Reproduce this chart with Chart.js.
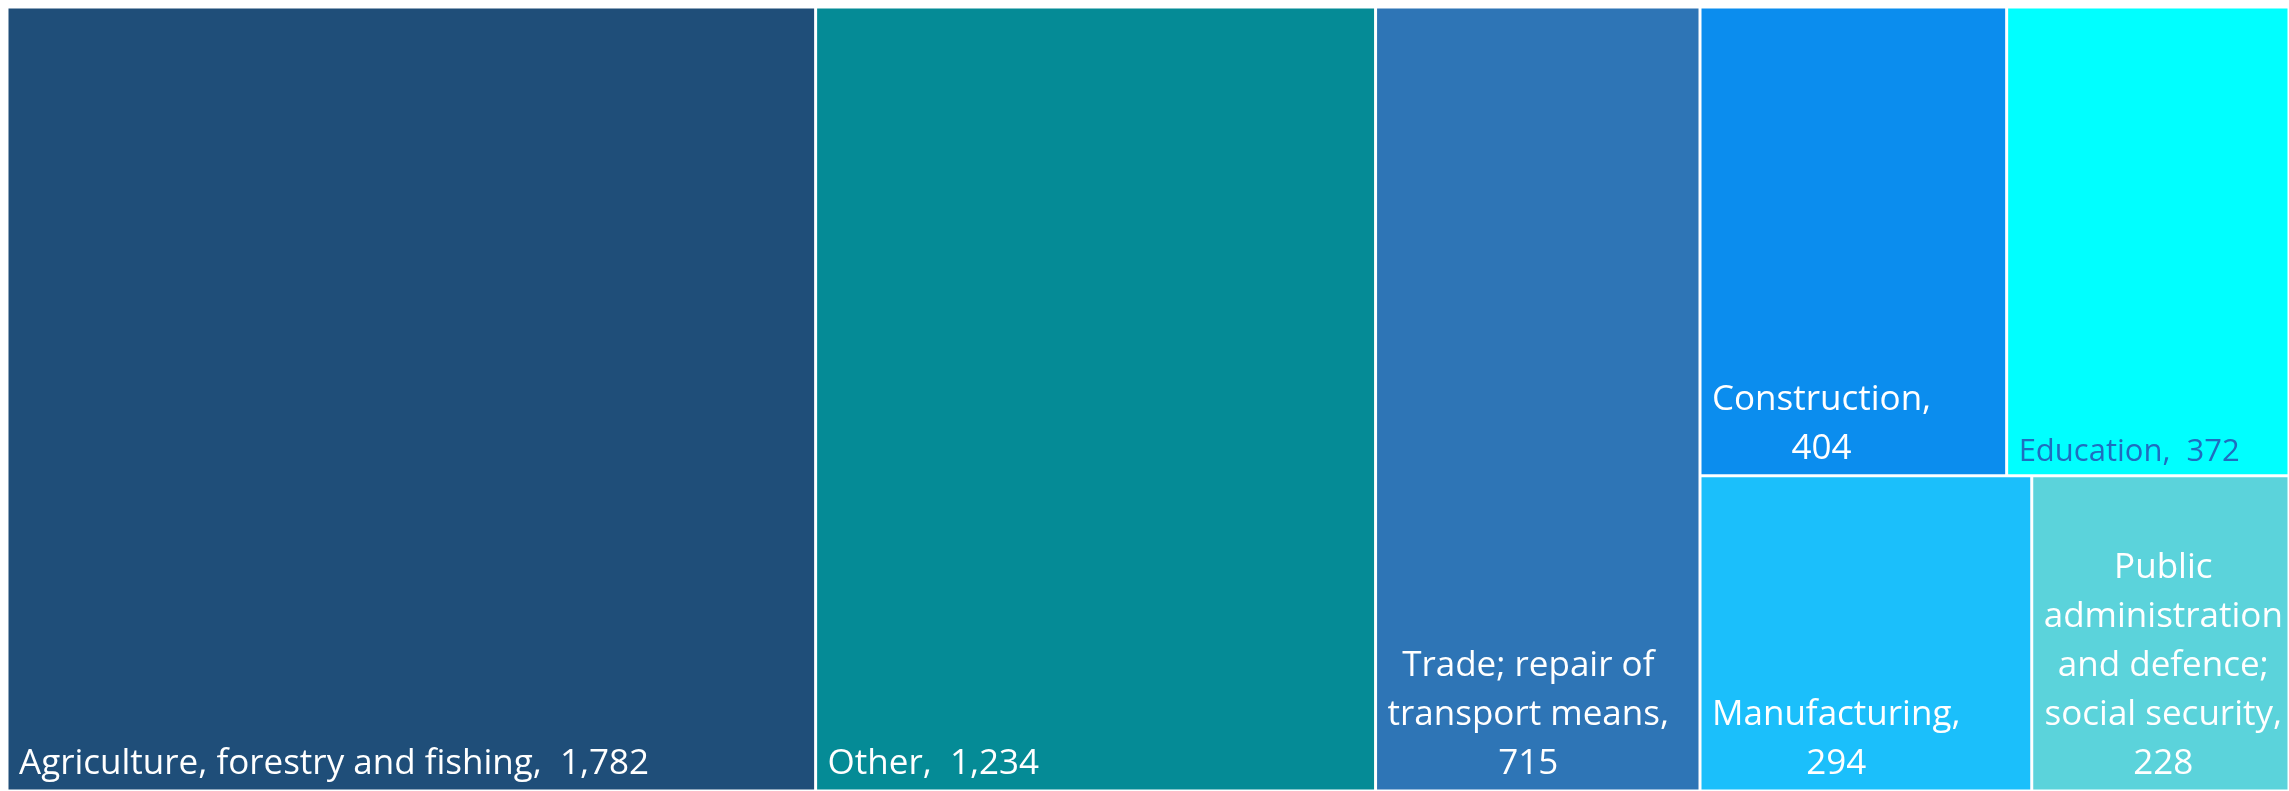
<!DOCTYPE html>
<html>
<head>
<meta charset="utf-8">
<script src="https://cdn.jsdelivr.net/npm/chart.js@4.4.1/dist/chart.umd.min.js"></script>
<style>
  html, body { margin: 0; padding: 0; background: #ffffff; }
  canvas { display: block; }
</style>
</head>
<body>
<canvas id="chart" width="2289" height="791"></canvas>
<script>
// data
const categories = [
  "Agriculture, forestry and fishing",
  "Other",
  "Trade; repair of transport means",
  "Construction",
  "Education",
  "Manufacturing",
  "Public administration and defence; social security",
];
const values = [1782, 1234, 715, 404, 372, 294, 228];

// styles
const cellColors = ["#1f4e79", "#058b96", "#2e75b6", "#0b8dee", "#00ffff", "#1bbffb", "#5bd3db"];
const textColors = ["#ffffff", "#ffffff", "#ffffff", "#ffffff", "#1f6dbf", "#ffffff", "#ffffff"];
const fontSizes = [35, 35, 35, 35, 31, 35, 35];
const FONT = '"Open Sans", "Noto Sans", sans-serif';

/* Excel-like layout in unit space: the three biggest cells are full-height
   columns, the rest are paired into rows inside the last column. */
function layoutCells(vals) {
  const total = vals.reduce((a, b) => a + b, 0);
  const rects = [];
  let x = 0;
  for (let i = 0; i < Math.min(3, vals.length); i++) {
    const w = vals[i] / total;
    rects.push({ x0: x, x1: x + w, y0: 0, y1: 1 });
    x += w;
  }
  const rest = vals.slice(3);
  const restSum = rest.reduce((a, b) => a + b, 0);
  let y = 0;
  for (let r = 0; r < rest.length; r += 2) {
    const pair = rest.slice(r, r + 2);
    const ps = pair.reduce((a, b) => a + b, 0);
    const h = ps / restSum;
    let xx = x;
    pair.forEach(v => {
      const w = (1 - x) * v / ps;
      rects.push({ x0: xx, x1: xx + w, y0: y, y1: y + h });
      xx += w;
    });
    y += h;
  }
  return rects;
}

class TreemapController extends Chart.DatasetController {
  parse() {
    this._cachedMeta._parsed = layoutCells(this.getDataset().data);
  }
  update(mode) {
    const meta = this._cachedMeta;
    this.updateElements(meta.data, 0, meta.data.length, mode);
  }
  updateElements(elements, start, count, mode) {
    const meta = this._cachedMeta;
    const xs = meta.xScale, ys = meta.yScale;
    for (let i = start; i < start + count; i++) {
      const r = meta._parsed[i];
      if (!r) continue;
      const left = xs.getPixelForValue(r.x0), right = xs.getPixelForValue(r.x1);
      const top = ys.getPixelForValue(r.y0), bottom = ys.getPixelForValue(r.y1);
      this.updateElement(elements[i], i, {
        x: (left + right) / 2,
        y: Math.min(top, bottom),
        base: Math.max(top, bottom),
        width: Math.abs(right - left),
        height: Math.abs(bottom - top),
        horizontal: false,
        borderSkipped: {},
        inflateAmount: 0,
        options: this.resolveDataElementOptions(i, mode),
      }, mode);
    }
  }
}
TreemapController.id = "treemap";
TreemapController.defaults = { datasetElementType: false, dataElementType: "bar" };
Chart.register(TreemapController);

function wrapLabel(ctx, name, valueText, maxW) {
  const words = (name + ",").split(" ");
  const tokens = words.map(w => ({ t: w, sep: " " }));
  tokens.push({ t: valueText, sep: "  " });
  const lines = [];
  let cur = "";
  tokens.forEach(tok => {
    const test = cur ? cur + tok.sep + tok.t : tok.t;
    if (!cur || ctx.measureText(test).width <= maxW) cur = test;
    else { lines.push(cur); cur = tok.t; }
  });
  if (cur) lines.push(cur);
  return lines;
}

const cellLabels = {
  id: "cellLabels",
  afterDatasetsDraw(chart) {
    const ctx = chart.ctx;
    const meta = chart.getDatasetMeta(0);
    const pad = 12;
    meta.data.forEach((el, i) => {
      const left = el.x - el.width / 2, right = el.x + el.width / 2;
      const bottom = Math.min(Math.max(el.y, el.base), 792);
      const size = fontSizes[i];
      const lineH = size * 1.4;
      ctx.save();
      ctx.font = size + "px " + FONT;
      ctx.fillStyle = textColors[i];
      ctx.textBaseline = "alphabetic";
      ctx.textAlign = "left";
      const lines = wrapLabel(ctx, categories[i], values[i].toLocaleString("en-US"), right - left - pad);
      const widths = lines.map(l => ctx.measureText(l).width);
      const blockW = Math.max(...widths);
      const lastBase = bottom - size * 0.48;
      lines.forEach((l, k) => {
        const yy = lastBase - (lines.length - 1 - k) * lineH;
        ctx.fillText(l, left + pad + (blockW - widths[k]) / 2, yy);
      });
      ctx.restore();
    });
  },
};

new Chart(document.getElementById("chart"), {
  type: "treemap",
  data: {
    labels: categories,
    datasets: [{
      data: values,
      backgroundColor: cellColors,
      borderColor: "#ffffff",
      borderWidth: 1.5,
    }],
  },
  options: {
    responsive: false,
    animation: false,
    events: [],
    devicePixelRatio: 1,
    layout: { padding: { left: 7, top: 7, right: -1, bottom: -3 } },
    plugins: { legend: { display: false }, tooltip: { enabled: false } },
    scales: {
      x: { type: "linear", min: 0, max: 1, display: false },
      y: { type: "linear", min: 0, max: 1, reverse: true, display: false },
    },
  },
  plugins: [cellLabels],
});
</script>
</body>
</html>
